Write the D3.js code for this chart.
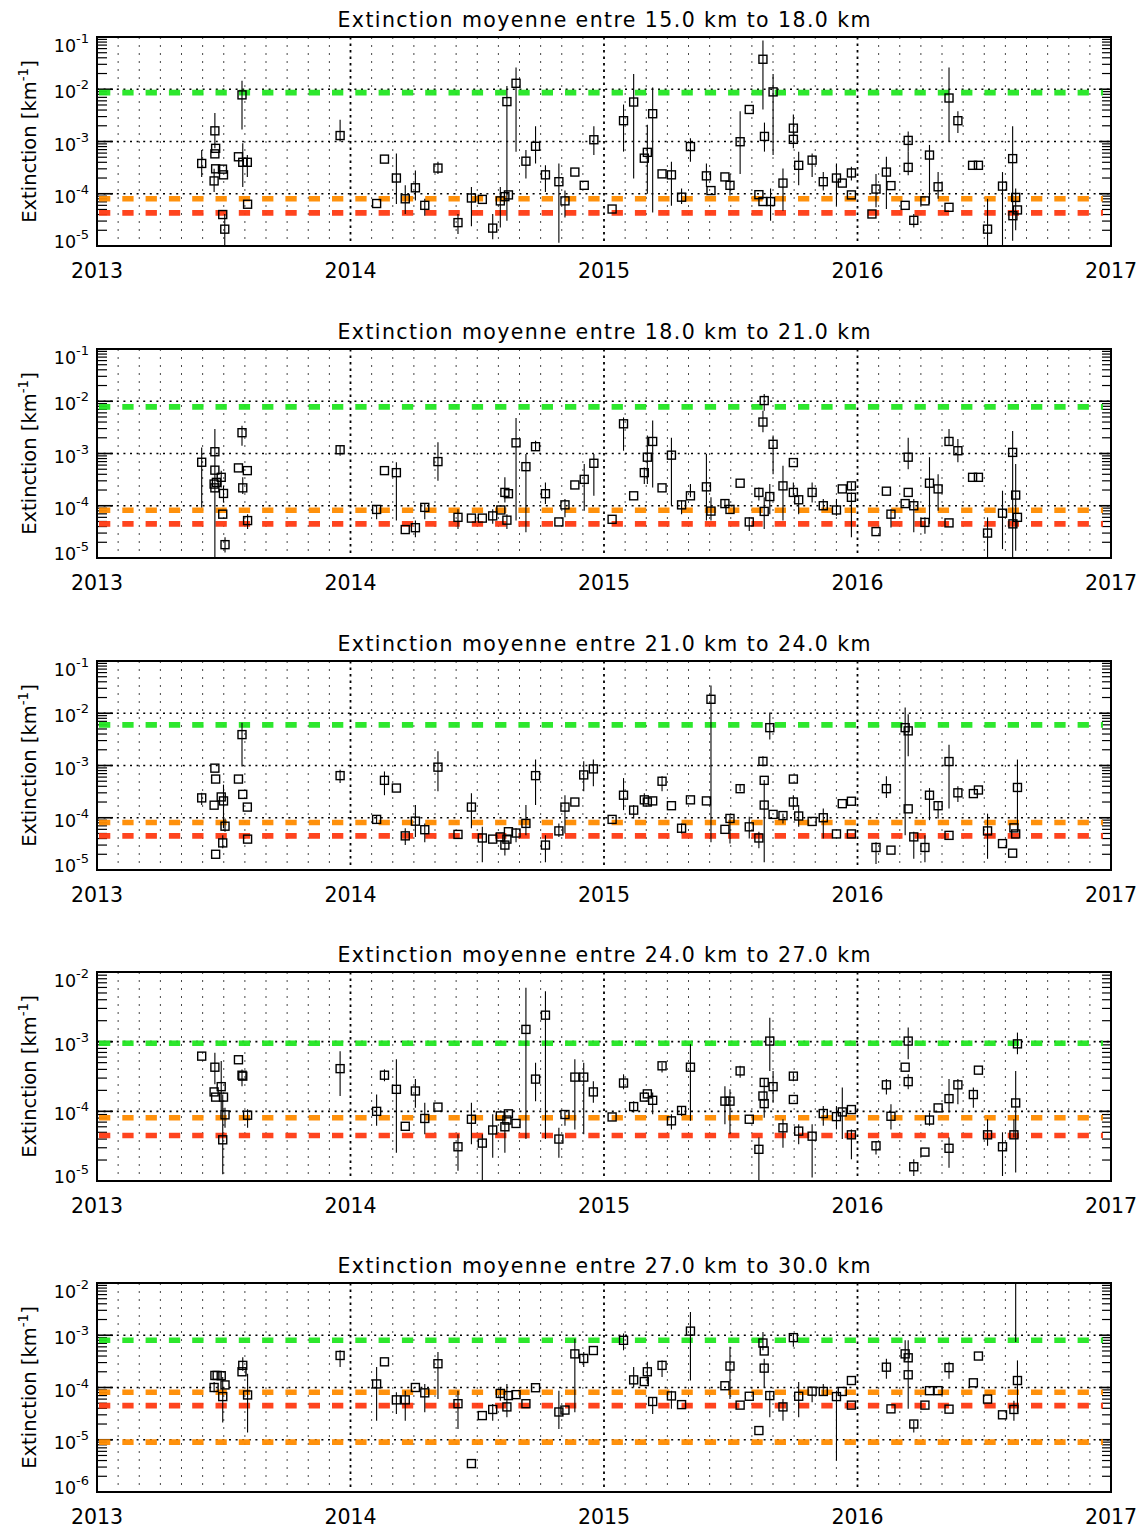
<!DOCTYPE html>
<html>
<head>
<meta charset="utf-8">
<script src="https://cdn.jsdelivr.net/npm/d3@7"></script>
<style>
  body { margin: 0; background: #fff; }
  text { font-family: "DejaVu Sans", "Liberation Sans", Arial, sans-serif; fill: #000; }
</style>
</head>
<body>
<div id="chart"></div>
<script>
// ---- data ----
var years = [2013, 2014, 2015, 2016, 2017];
var layers = ["15.0 km to 18.0 km", "18.0 km to 21.0 km", "21.0 km to 24.0 km", "24.0 km to 27.0 km", "27.0 km to 30.0 km"];
var yDomains = [[1e-5, 1e-1], [1e-5, 1e-1], [1e-5, 1e-1], [1e-5, 1e-2], [1e-6, 1e-2]];
var greenLevels = [8.6e-3, 7.8e-3, 6.0e-3, 9.5e-4, 8.0e-4];
var orangeLevels = [8.0e-5, 8.2e-5, 8.1e-5, 8.1e-5, 8.1e-5];
var redLevels = [4.3e-5, 4.5e-5, 4.5e-5, 4.5e-5, 4.5e-5];
var lowOrangeLevels = [null, null, null, null, 9.0e-6];

// [decimal year, extinction, error low, error high]
var panel1 = [
  [2013.413, 3.8e-4, 2.1e-4, 6.9e-4], [2013.465, 1.6e-3, 7.4e-4, 3.5e-3], [2013.468, 7.4e-4], [2013.465, 5.8e-4],
  [2013.468, 3.0e-4], [2013.462, 1.76e-4, 1.08e-4, 3.0e-4], [2013.495, 2.96e-4], [2013.499, 2.3e-4],
  [2013.496, 4.0e-5], [2013.504, 2.1e-5, 1e-5, 4.1e-5], [2013.558, 5.1e-4], [2013.572, 7.8e-3, 1.7e-3, 1.45e-2],
  [2013.575, 4.0e-4, 1.35e-4, 9.3e-4], [2013.593, 4.0e-4, 2.1e-4, 5.5e-4], [2013.594, 6.3e-5],
  [2013.959, 1.3e-3, 1.0e-3, 2.6e-3], [2014.103, 6.5e-5], [2014.134, 4.6e-4], [2014.181, 2.0e-4, 6.4e-5, 5.9e-4],
  [2014.216, 8.0e-5, 4.1e-5, 1.45e-4], [2014.256, 1.3e-4, 7.4e-5, 2.8e-4], [2014.293, 6.0e-5, 3.8e-5, 8e-5],
  [2014.345, 3.1e-4, 2.4e-4, 4.1e-4], [2014.424, 2.8e-5, 1.7e-5, 4.1e-5], [2014.477, 8.3e-5, 2.4e-5, 1.35e-4],
  [2014.520, 7.8e-5], [2014.561, 2.2e-5, 1.35e-5, 4.1e-5], [2014.591, 7.3e-5, 2.26e-5, 1.35e-4], [2014.609, 8.8e-5],
  [2014.617, 5.8e-3, 3.05e-5, 1.16e-2], [2014.623, 9.5e-5], [2014.653, 1.3e-2, 6.4e-4, 2.6e-2],
  [2014.692, 4.2e-4, 1.95e-4, 6.9e-4], [2014.730, 8.1e-4, 3.8e-4, 1.95e-3], [2014.769, 2.3e-4, 1.08e-4, 3.5e-4],
  [2014.822, 1.7e-4, 1.16e-5, 3.8e-4], [2014.846, 7.3e-5, 3.5e-5, 1.16e-4], [2014.885, 2.6e-4], [2014.922, 1.45e-4],
  [2014.960, 1.08e-3, 5.5e-4, 1.95e-3], [2015.032, 5.1e-5], [2015.077, 2.5e-3, 6.4e-4, 5.1e-3],
  [2015.117, 5.7e-3, 1.95e-4, 1.95e-2], [2015.159, 4.8e-4], [2015.171, 6.2e-4, 1.0e-4, 2.1e-3],
  [2015.192, 3.4e-3, 4.4e-5, 1.08e-2], [2015.229, 2.4e-4], [2015.266, 2.3e-4, 5.9e-5, 4.1e-4],
  [2015.306, 8.6e-5, 6.4e-5, 1.26e-4], [2015.341, 8.0e-4, 4.1e-4, 1.16e-3], [2015.404, 2.2e-4, 1.35e-4, 3.8e-4],
  [2015.422, 1.15e-4], [2015.477, 2.1e-4], [2015.497, 1.45e-4, 9.3e-5, 2.4e-4], [2015.537, 9.9e-4, 2.4e-4, 3.8e-3],
  [2015.573, 4.1e-3], [2015.611, 9.6e-5], [2015.627, 3.75e-2, 4.1e-3, 8.6e-2], [2015.633, 1.25e-3, 6.4e-4, 2.3e-3],
  [2015.627, 7.1e-5], [2015.657, 7.1e-5, 3.05e-5, 1.26e-4], [2015.667, 8.9e-3, 5.5e-4, 1.95e-2],
  [2015.706, 1.6e-4, 4.75e-5, 3.05e-4], [2015.747, 1.8e-3, 7.4e-4, 3.3e-3], [2015.747, 1.1e-3],
  [2015.768, 3.5e-4, 1.45e-4, 6.4e-4], [2015.821, 4.4e-4, 2.1e-4, 5.9e-4], [2015.865, 1.7e-4, 1.16e-4, 2.6e-4],
  [2015.917, 2.0e-4, 5.9e-5, 3.8e-4], [2015.940, 1.6e-4], [2015.976, 2.5e-4, 1.8e-4, 3.3e-4], [2015.976, 9.5e-5],
  [2016.057, 4.1e-5], [2016.073, 1.23e-4, 5.5e-5, 2.4e-4], [2016.114, 2.6e-4, 5.1e-5, 5.1e-4], [2016.132, 1.43e-4],
  [2016.188, 6.0e-5], [2016.200, 1.05e-3, 6.4e-4, 1.56e-3], [2016.200, 3.2e-4, 2.26e-4, 6.4e-4],
  [2016.222, 3.1e-5, 2.26e-5, 4.1e-5], [2016.266, 7.3e-5], [2016.284, 5.5e-4, 6.4e-5, 8.6e-4],
  [2016.318, 1.36e-4, 8e-5, 2.6e-4], [2016.361, 5.5e-5], [2016.361, 6.8e-3, 1.0e-3, 2.6e-2],
  [2016.396, 2.5e-3, 1.45e-3, 3.8e-3], [2016.454, 3.5e-4], [2016.477, 3.5e-4], [2016.513, 2.1e-5, 1e-5, 8e-5],
  [2016.572, 1.4e-4, 1e-5, 2.6e-4], [2016.612, 4.7e-4, 1.26e-5, 1.95e-3], [2016.613, 3.8e-5],
  [2016.624, 8.5e-5, 2e-5, 1.26e-4], [2016.631, 4.9e-5]
];

var panel2 = [
  [2013.413, 6.8e-4, 9.3e-5, 1.3e-3], [2013.465, 1.08e-3, 1.0e-5, 2.95e-3], [2013.465, 4.8e-4], [2013.462, 2.6e-4],
  [2013.465, 2.2e-4], [2013.471, 2.8e-4], [2013.490, 3.5e-4, 2.24e-4, 4.7e-4], [2013.499, 1.72e-4, 1.16e-4, 2.4e-4],
  [2013.496, 6.9e-5], [2013.505, 1.8e-5, 1.28e-5, 2.5e-5], [2013.558, 5.3e-4], [2013.572, 2.5e-3, 1.41e-3, 3.4e-3],
  [2013.575, 2.2e-4, 1.67e-4, 3.5e-4], [2013.593, 4.7e-4], [2013.594, 5.2e-5, 3.6e-5, 6.9e-5],
  [2013.959, 1.18e-3, 9.1e-4, 1.41e-3], [2014.103, 8.5e-5, 5.5e-5, 1.0e-4], [2014.134, 4.7e-4],
  [2014.181, 4.3e-4, 5.2e-5, 6.8e-4], [2014.216, 3.5e-5], [2014.256, 3.8e-5, 2.5e-5, 5.2e-5],
  [2014.293, 9.3e-5, 5.5e-5, 1.08e-4], [2014.345, 7.0e-4, 3.0e-4, 1.64e-3], [2014.424, 6.0e-5, 3.6e-5, 8.6e-5],
  [2014.477, 5.8e-5], [2014.520, 5.8e-5], [2014.561, 6.4e-5, 4.5e-5, 8.6e-5], [2014.593, 8.3e-5],
  [2014.609, 1.8e-4, 1.16e-4, 3.5e-4], [2014.623, 1.7e-4], [2014.617, 5.3e-5, 3.6e-5, 6.9e-5],
  [2014.653, 1.6e-3, 5.2e-5, 4.8e-3], [2014.692, 5.6e-4, 3.1e-5, 9.8e-4], [2014.730, 1.35e-3, 1.13e-3, 1.76e-3],
  [2014.769, 1.7e-4, 1.08e-4, 2.8e-4], [2014.822, 4.9e-5], [2014.846, 1.04e-4, 6.0e-5, 1.35e-4], [2014.885, 2.5e-4],
  [2014.922, 3.2e-4, 8e-5, 6.3e-4], [2014.960, 6.5e-4, 1.55e-4, 9.8e-4], [2015.032, 5.5e-5],
  [2015.077, 3.7e-3, 1.13e-3, 4.9e-3], [2015.117, 1.55e-4], [2015.159, 4.3e-4, 2.6e-4, 5.4e-4],
  [2015.171, 8.5e-4, 2.6e-4, 2.2e-3], [2015.192, 1.7e-3, 2.24e-4, 4.3e-3], [2015.229, 2.2e-4],
  [2015.266, 9.3e-4, 1e-4, 2.0e-3], [2015.306, 1.04e-4, 6.9e-5, 1.26e-4], [2015.341, 1.55e-4, 1.45e-4, 2.6e-4],
  [2015.404, 2.3e-4, 5.2e-5, 9.8e-4], [2015.422, 7.9e-5, 5.2e-5, 1.45e-4], [2015.477, 1.1e-4, 9.3e-5, 1.35e-4],
  [2015.497, 8.5e-5], [2015.537, 2.7e-4], [2015.573, 4.9e-5, 3.3e-5, 6.0e-5], [2015.611, 1.8e-4, 1.26e-4, 2.24e-4],
  [2015.632, 1.03e-2, 6.6e-3, 1.38e-2], [2015.627, 4.0e-3, 2.55e-3, 6.6e-3], [2015.632, 7.8e-5, 3.6e-5, 1.45e-4],
  [2015.654, 1.5e-4, 6.9e-5, 2.6e-4], [2015.667, 1.5e-3, 4.0e-4, 2.2e-3], [2015.706, 2.4e-4, 5.2e-5, 5.85e-4],
  [2015.747, 6.7e-4], [2015.747, 1.8e-4, 1.55e-4, 2.8e-4], [2015.768, 1.3e-4, 6.9e-5, 1.55e-4],
  [2015.821, 1.8e-4, 1.16e-4, 2.8e-4], [2015.865, 1.0e-4, 8.6e-5, 1.35e-4], [2015.917, 8.3e-5, 6.4e-5, 1.35e-4],
  [2015.940, 2.1e-4], [2015.976, 2.4e-4, 1.94e-4, 2.8e-4], [2015.976, 1.45e-4, 2.5e-5, 1.8e-4], [2016.073, 3.2e-5],
  [2016.114, 1.9e-4], [2016.132, 6.9e-5, 3.85e-5, 8.6e-5], [2016.188, 1.1e-4], [2016.200, 1.8e-4],
  [2016.200, 8.5e-4, 5.0e-4, 2.0e-3], [2016.222, 1.0e-4, 3.1e-5, 1.35e-4], [2016.266, 4.8e-5, 2.9e-5, 6.0e-5],
  [2016.284, 2.7e-4, 4.5e-5, 8.5e-4], [2016.318, 2.1e-4, 8e-5, 4.0e-4], [2016.361, 4.7e-5],
  [2016.361, 1.7e-3, 1.41e-3, 2.95e-3], [2016.396, 1.13e-3, 6.8e-4, 1.9e-3], [2016.454, 3.5e-4], [2016.477, 3.5e-4],
  [2016.513, 3.0e-5, 1e-5, 6.0e-5], [2016.572, 7.2e-5, 1.48e-5, 1.94e-4], [2016.612, 1.05e-3, 1e-5, 2.7e-3],
  [2016.613, 4.5e-5], [2016.624, 1.6e-4, 1.37e-5, 6.3e-4], [2016.631, 6.0e-5]
];

var panel3 = [
  [2013.413, 2.4e-4, 1.75e-4, 3.0e-4], [2013.465, 8.9e-4], [2013.468, 5.5e-4], [2013.462, 1.74e-4], [2013.490, 2.5e-4],
  [2013.499, 2.1e-4, 6.3e-5, 4.3e-4], [2013.505, 6.9e-5, 5.4e-5, 9.7e-5], [2013.496, 3.3e-5, 2.6e-5, 4.6e-5],
  [2013.468, 2.0e-5], [2013.558, 5.5e-4], [2013.572, 3.9e-3, 9.6e-4, 6.6e-3], [2013.575, 2.8e-4], [2013.593, 1.6e-4],
  [2013.594, 3.9e-5], [2013.959, 6.4e-4, 4.6e-4, 8.3e-4], [2014.103, 9.3e-5, 7.8e-5, 1.12e-4],
  [2014.134, 5.2e-4, 2.7e-4, 7.7e-4], [2014.181, 3.7e-4], [2014.216, 4.5e-5, 3.0e-5, 6.3e-5],
  [2014.256, 8.6e-5, 4.3e-5, 1.75e-4], [2014.293, 5.9e-5, 3.4e-5, 7.8e-5], [2014.345, 9.3e-4, 3.2e-4, 1.87e-3],
  [2014.424, 4.8e-5], [2014.477, 1.6e-4, 6.3e-5, 2.95e-4], [2014.520, 4.1e-5, 1.4e-5, 6.7e-5], [2014.561, 3.9e-5],
  [2014.591, 4.3e-5], [2014.609, 3.0e-5, 1.9e-5, 4.6e-5], [2014.617, 3.9e-5], [2014.623, 5.4e-5],
  [2014.653, 5.1e-5, 3.4e-5, 6.3e-5], [2014.692, 7.8e-5, 4.6e-5, 1.75e-4], [2014.730, 6.4e-4, 1.75e-4, 1.3e-3],
  [2014.769, 3.0e-5, 1.4e-5, 4.6e-5], [2014.822, 5.6e-5, 4.3e-5, 7.8e-5], [2014.846, 1.6e-4, 5.0e-5, 2.7e-4],
  [2014.885, 2.0e-4], [2014.920, 6.6e-4, 3.2e-4, 1.2e-3], [2014.958, 8.6e-4, 4.0e-4, 1.3e-3], [2015.032, 9.3e-5],
  [2015.077, 2.7e-4, 1.4e-4, 5.75e-4], [2015.117, 1.4e-4, 9.7e-5, 1.75e-4], [2015.159, 2.2e-4, 1.9e-4, 2.95e-4],
  [2015.171, 2.0e-4], [2015.192, 2.1e-4], [2015.229, 5.0e-4, 3.2e-4, 6.2e-4], [2015.266, 1.7e-4],
  [2015.306, 6.3e-5, 5.0e-5, 7.8e-5], [2015.341, 2.2e-4], [2015.404, 2.1e-4], [2015.422, 1.85e-2, 3.4e-5, 3.4e-2],
  [2015.477, 6.0e-5], [2015.497, 9.7e-5, 3.2e-5, 1.12e-4], [2015.537, 3.6e-4, 3.2e-4, 4.3e-4],
  [2015.573, 6.7e-5, 4.0e-5, 1.05e-4], [2015.611, 4.1e-5, 2.6e-5, 5.4e-5], [2015.627, 1.2e-3, 9.6e-4, 1.5e-3],
  [2015.632, 5.2e-4], [2015.632, 1.75e-4, 1.4e-5, 5.3e-4], [2015.654, 5.3e-3, 3.15e-3, 1.03e-2], [2015.667, 1.16e-4],
  [2015.706, 1.1e-4, 7.8e-5, 1.2e-4], [2015.747, 5.5e-4], [2015.747, 2.0e-4, 1.4e-4, 2.7e-4],
  [2015.768, 1.08e-4, 6.7e-5, 1.75e-4], [2015.821, 8.5e-5], [2015.865, 1.0e-4, 4.0e-5, 1.5e-4], [2015.917, 4.9e-5],
  [2015.940, 1.86e-4], [2015.976, 2.07e-4], [2015.976, 4.9e-5], [2016.073, 2.7e-5, 1.3e-5, 3.4e-5],
  [2016.114, 3.6e-4, 2.4e-4, 6.2e-4], [2016.132, 2.4e-5], [2016.188, 5.3e-3, 4.6e-5, 1.29e-2],
  [2016.200, 4.6e-3, 1.5e-3, 9.6e-3], [2016.200, 1.48e-4], [2016.222, 4.3e-5, 1.64e-5, 5.4e-5],
  [2016.266, 2.7e-5, 1.4e-5, 4.6e-5], [2016.284, 2.7e-4, 9.0e-5, 3.7e-4], [2016.318, 1.7e-4, 9.7e-5, 2.0e-4],
  [2016.361, 1.19e-3, 1.5e-4, 2.5e-3], [2016.361, 4.6e-5], [2016.396, 3.0e-4, 2.0e-4, 4.0e-4], [2016.457, 2.9e-4],
  [2016.477, 3.4e-4], [2016.513, 5.6e-5, 1.64e-5, 1.2e-4], [2016.572, 3.2e-5], [2016.612, 2.1e-5], [2016.617, 6.4e-5],
  [2016.624, 4.9e-5], [2016.631, 3.8e-4, 5.4e-5, 1.3e-3]
];

var panel4 = [
  [2013.413, 6.2e-4], [2013.465, 4.3e-4, 2.45e-4, 6.95e-4], [2013.462, 1.9e-4], [2013.468, 1.6e-4],
  [2013.490, 2.26e-4, 1.01e-4, 5.3e-4], [2013.499, 1.6e-4], [2013.505, 8.9e-5, 5.8e-5, 1.13e-4],
  [2013.496, 3.9e-5, 1.25e-5, 1.75e-4], [2013.558, 5.5e-4], [2013.572, 3.3e-4, 2.3e-4, 4.0e-4], [2013.575, 3.2e-4],
  [2013.594, 8.8e-5, 5.8e-5, 1.07e-4], [2013.959, 4.1e-4, 1.66e-4, 7.3e-4], [2014.103, 1.0e-4, 6.2e-5, 1.75e-4],
  [2014.134, 3.3e-4, 2.7e-4, 4.0e-4], [2014.181, 2.07e-4, 2.55e-5, 5.6e-4], [2014.216, 6.1e-5],
  [2014.256, 1.96e-4, 1.13e-4, 2.9e-4], [2014.293, 7.9e-5, 4.7e-5, 1.33e-4], [2014.345, 1.15e-4],
  [2014.424, 3.1e-5, 1.4e-5, 4.7e-5], [2014.477, 7.7e-5, 3.36e-5, 1.33e-4], [2014.520, 3.5e-5, 1e-5, 4.7e-5],
  [2014.561, 5.4e-5, 2.16e-5, 9.1e-5], [2014.591, 8.6e-5], [2014.609, 6.0e-5, 2.55e-5, 1.01e-4], [2014.617, 7.5e-5],
  [2014.623, 9.2e-5], [2014.653, 6.7e-5], [2014.692, 1.5e-3, 4.0e-5, 5.96e-3], [2014.730, 2.9e-4, 1.4e-4, 5.0e-4],
  [2014.769, 2.4e-3, 4.0e-5, 5.3e-3], [2014.822, 4.0e-5, 2.16e-5, 5.8e-5], [2014.846, 9.0e-5, 6.2e-5, 1.01e-4],
  [2014.885, 3.1e-4, 5.5e-5, 5.6e-4], [2014.920, 3.1e-4, 4.7e-5, 5.0e-4], [2014.958, 1.9e-4, 1.33e-4, 2.7e-4],
  [2015.032, 8.3e-5], [2015.077, 2.55e-4, 2.07e-4, 3.4e-4], [2015.117, 1.17e-4, 9.6e-5, 1.4e-4], [2015.159, 1.6e-4],
  [2015.171, 1.78e-4], [2015.192, 1.44e-4, 9.1e-5, 1.86e-4], [2015.229, 4.5e-4, 3.6e-4, 5.0e-4],
  [2015.266, 7.3e-5, 5.5e-5, 9.1e-5], [2015.306, 1.03e-4, 8.6e-5, 1.19e-4], [2015.341, 4.3e-4, 7.3e-5, 9.2e-4],
  [2015.477, 1.4e-4, 6.5e-5, 2.3e-4], [2015.497, 1.4e-4, 4.7e-5, 2.07e-4], [2015.537, 3.8e-4, 3.04e-4, 4.5e-4],
  [2015.573, 7.7e-5], [2015.611, 2.85e-5, 1e-5, 4.2e-5], [2015.627, 1.66e-4], [2015.632, 1.29e-4, 8.1e-5, 2.9e-4],
  [2015.632, 2.6e-4], [2015.654, 1.02e-3, 3.8e-4, 2.2e-3], [2015.667, 2.26e-4, 1.33e-4, 3.8e-4],
  [2015.706, 5.8e-5, 3.0e-5, 7.7e-5], [2015.747, 3.2e-4, 2.7e-4, 3.6e-4], [2015.747, 1.48e-4],
  [2015.768, 5.2e-5, 3.36e-5, 6.5e-5], [2015.821, 4.4e-5, 1.12e-5, 6.5e-5], [2015.865, 9.3e-5, 6.2e-5, 1.19e-4],
  [2015.917, 8.4e-5, 5.5e-5, 1.19e-4], [2015.940, 9.8e-5, 4.0e-5, 2.2e-4], [2015.976, 1.06e-4],
  [2015.976, 4.6e-5, 2.05e-5, 5.5e-5], [2016.073, 3.2e-5, 2.4e-5, 3.75e-5], [2016.114, 2.4e-4, 1.75e-4, 2.9e-4],
  [2016.132, 8.5e-5, 5.5e-5, 1.26e-4], [2016.188, 4.3e-4], [2016.200, 1.02e-3, 5.6e-4, 1.6e-3],
  [2016.200, 2.67e-4, 2.07e-4, 3.4e-4], [2016.222, 1.6e-5, 1.18e-5, 2.05e-5], [2016.266, 2.6e-5],
  [2016.284, 7.5e-5, 6.2e-5, 9.6e-5], [2016.318, 1.12e-4], [2016.361, 1.52e-4, 9.6e-5, 2.9e-4],
  [2016.361, 2.95e-5, 1.55e-5, 4.2e-5], [2016.396, 2.4e-4, 1.26e-4, 2.9e-4], [2016.457, 1.74e-4, 1.13e-4, 2.2e-4],
  [2016.477, 3.9e-4], [2016.513, 4.6e-5, 3.2e-5, 7.7e-5], [2016.572, 3.1e-5, 1.18e-5, 5.0e-5],
  [2016.617, 4.6e-5, 4.2e-5, 7.7e-5], [2016.624, 1.32e-4, 1.32e-5, 3.8e-4], [2016.631, 9.3e-4, 6.6e-4, 1.35e-3]
];

var panel5 = [
  [2013.462, 1.0e-4, 8.1e-5, 1.27e-4], [2013.465, 1.7e-4], [2013.474, 1.7e-4], [2013.490, 1.68e-4], [2013.505, 1.12e-4],
  [2013.496, 6.7e-5, 2.15e-5, 1.58e-4], [2013.575, 2.65e-4, 2.1e-4, 3.8e-4], [2013.572, 2.0e-4],
  [2013.594, 7.2e-5, 1.38e-5, 1.83e-4], [2013.959, 4.1e-4, 2.46e-4, 5.15e-4], [2014.103, 1.17e-4, 2.3e-5, 2.46e-4],
  [2014.134, 3.1e-4], [2014.181, 5.8e-5, 3.1e-5, 8.1e-5], [2014.216, 5.8e-5, 2.3e-5, 8.7e-5], [2014.256, 1.0e-4],
  [2014.293, 7.9e-5, 3.36e-5, 1.17e-4], [2014.345, 2.85e-4, 6.0e-5, 4.8e-4], [2014.424, 4.9e-5, 1.6e-5, 8.7e-5],
  [2014.477, 3.5e-6], [2014.520, 2.9e-5], [2014.561, 3.8e-5, 2.3e-5, 4.85e-5], [2014.591, 7.7e-5, 5.6e-5, 1.01e-4],
  [2014.617, 4.25e-5, 2.7e-5, 1.17e-4], [2014.623, 7.0e-5], [2014.653, 7.3e-5], [2014.692, 4.9e-5], [2014.730, 9.9e-5],
  [2014.822, 3.4e-5, 1.6e-5, 8.7e-5], [2014.846, 3.7e-5], [2014.885, 4.4e-4, 3.36e-5, 8.6e-4],
  [2014.920, 3.6e-4, 2.46e-4, 4.8e-4], [2014.958, 5.1e-4], [2015.077, 8.0e-4, 5.15e-4, 1.08e-3],
  [2015.117, 1.4e-4, 1.01e-4, 2.46e-4], [2015.159, 1.3e-4], [2015.171, 2.0e-4, 1.17e-4, 3.1e-4],
  [2015.192, 5.4e-5, 3.1e-5, 6.5e-5], [2015.229, 2.65e-4, 1.58e-4, 3.3e-4], [2015.266, 6.9e-5, 3.9e-5, 8.7e-5],
  [2015.306, 4.7e-5], [2015.341, 1.2e-3, 1.36e-4, 2.8e-3], [2015.477, 1.08e-4], [2015.497, 2.57e-4, 6.0e-5, 6.0e-4],
  [2015.537, 4.6e-5], [2015.573, 6.8e-5], [2015.611, 1.5e-5], [2015.627, 7.1e-4, 5.15e-4, 1.16e-3], [2015.632, 5.0e-4],
  [2015.632, 2.35e-4, 1.01e-4, 3.55e-4], [2015.654, 7.0e-5, 2.7e-5, 8.7e-5], [2015.706, 4.25e-5, 2.3e-5, 6.0e-5],
  [2015.747, 9.0e-4, 6.0e-4, 1.08e-3], [2015.768, 6.8e-5, 2.7e-5, 1.27e-4], [2015.821, 8.5e-5, 5.2e-5, 1.01e-4],
  [2015.865, 8.4e-5, 7.0e-5, 1.17e-4], [2015.917, 6.7e-5, 4.0e-6, 8.7e-5], [2015.940, 8.4e-5], [2015.976, 1.36e-4],
  [2015.976, 4.6e-5], [2016.114, 2.45e-4, 1.47e-4, 3.55e-4], [2016.132, 3.9e-5], [2016.188, 4.4e-4, 3.3e-4, 8.0e-4],
  [2016.200, 3.7e-4], [2016.200, 1.75e-4, 3.9e-5, 8.0e-4], [2016.222, 2.0e-5, 1.38e-5, 2.3e-5], [2016.266, 4.6e-5],
  [2016.284, 8.7e-5], [2016.318, 8.7e-5], [2016.361, 2.4e-4, 1.47e-4, 3.1e-4], [2016.361, 3.85e-5], [2016.457, 1.23e-4],
  [2016.477, 4.0e-4], [2016.513, 6.0e-5], [2016.572, 3.0e-5], [2016.617, 3.8e-5, 2.3e-5, 5.6e-5],
  [2016.624, 5.0e-2, 7.4e-4, 1.0], [2016.631, 1.36e-4, 3.36e-5, 3.3e-4]
];

var panels = [panel1, panel2, panel3, panel4, panel5];

// ---- layout ----
var width = 1145, height = 1529;
var left = 97, right = 1111, plotH = 209;
var tops = [37, 349, 661, 972, 1283];
var green = "#22e622", orange = "#ff8c00", red = "#ff3a12";

var svg = d3.select("#chart").append("svg")
  .attr("width", width).attr("height", height)
  .attr("viewBox", "0 0 " + width + " " + height);

var x = d3.scaleLinear().domain([years[0], years[years.length - 1]]).range([left, right]);

function drawPanel(i) {
  var top = tops[i], bottom = top + plotH;
  var dom = yDomains[i];
  var y = d3.scaleLog().domain(dom).range([bottom, top]);
  var g = svg.append("g");

  g.append("clipPath").attr("id", "clip" + i)
    .append("rect").attr("x", left).attr("y", top).attr("width", right - left).attr("height", plotH);

  // monthly grid
  var months = d3.range(1, 48).filter(function(m) { return m % 12 != 0; })
    .map(function(m) { return years[0] + m / 12; });
  g.selectAll(".month").data(months).enter().append("line")
    .attr("x1", function(d) { return x(d); }).attr("x2", function(d) { return x(d); })
    .attr("y1", top).attr("y2", bottom)
    .attr("stroke", "#333").attr("stroke-width", 0.9).attr("stroke-dasharray", "2,6");

  // year grid
  g.selectAll(".year").data(years.slice(1, -1)).enter().append("line")
    .attr("x1", function(d) { return x(d); }).attr("x2", function(d) { return x(d); })
    .attr("y1", top).attr("y2", bottom)
    .attr("stroke", "#000").attr("stroke-width", 1.8).attr("stroke-dasharray", "2.5,4");

  // decades
  var e0 = Math.round(Math.log10(dom[0])), e1 = Math.round(Math.log10(dom[1]));
  var decades = d3.range(e0, e1 + 1);
  g.selectAll(".dec").data(decades.slice(1, -1)).enter().append("line")
    .attr("x1", left).attr("x2", right)
    .attr("y1", function(e) { return y(Math.pow(10, e)); }).attr("y2", function(e) { return y(Math.pow(10, e)); })
    .attr("stroke", "#000").attr("stroke-width", 1.6).attr("stroke-dasharray", "2,4.6");

  // tick marks (left + right, inward)
  var minors = [];
  decades.slice(0, -1).forEach(function(e) {
    for (var k = 2; k <= 9; k++) minors.push(k * Math.pow(10, e));
  });
  [[left, 1, 16, 10], [right, -1, 12, 9]].forEach(function(a) {
    g.selectAll(null).data(minors).enter().append("line")
      .attr("x1", a[0]).attr("x2", a[0] + a[1] * a[3])
      .attr("y1", function(d) { return y(d); }).attr("y2", function(d) { return y(d); })
      .attr("stroke", "#000").attr("stroke-width", 1.2);
    g.selectAll(null).data(decades).enter().append("line")
      .attr("x1", a[0]).attr("x2", a[0] + a[1] * a[2])
      .attr("y1", function(e) { return y(Math.pow(10, e)); }).attr("y2", function(e) { return y(Math.pow(10, e)); })
      .attr("stroke", "#000").attr("stroke-width", 1.6);
  });

  // threshold levels
  var levels = [[greenLevels[i], green], [orangeLevels[i], orange], [redLevels[i], red]];
  if (lowOrangeLevels[i]) levels.push([lowOrangeLevels[i], orange]);
  g.selectAll(".lvl").data(levels).enter().append("line")
    .attr("x1", left + 2).attr("x2", right - 8)
    .attr("y1", function(d) { return y(d[0]); }).attr("y2", function(d) { return y(d[0]); })
    .attr("stroke", function(d) { return d[1]; }).attr("stroke-width", 5.6)
    .attr("stroke-dasharray", "11.3,12").attr("opacity", 0.95);

  // error bars
  var pts = g.append("g").attr("clip-path", "url(#clip" + i + ")");
  pts.selectAll(".err").data(panels[i].filter(function(d) { return d.length > 2; })).enter().append("line")
    .attr("x1", function(d) { return x(d[0]); }).attr("x2", function(d) { return x(d[0]); })
    .attr("y1", function(d) { return y(d[2]); }).attr("y2", function(d) { return y(d[3]); })
    .attr("stroke", "#000").attr("stroke-width", 1.1);

  // squares
  var s = 8;
  pts.selectAll(".pt").data(panels[i]).enter().append("rect")
    .attr("x", function(d) { return x(d[0]) - s / 2; })
    .attr("y", function(d) { return y(d[1]) - s / 2; })
    .attr("width", s).attr("height", s)
    .attr("fill", "none").attr("stroke", "#000").attr("stroke-width", 1.4);

  // frame
  g.append("rect").attr("x", left).attr("y", top).attr("width", right - left).attr("height", plotH)
    .attr("fill", "none").attr("stroke", "#000").attr("stroke-width", 2);

  // y tick labels
  decades.forEach(function(e) {
    var v = Math.pow(10, e), dy = 9;
    if (e == e1) dy = 15;
    if (e == e0) dy = 2;
    var t = g.append("text").attr("x", left - 8).attr("y", y(v) + dy)
      .attr("text-anchor", "end").attr("font-size", 17.5);
    t.append("tspan").text("10");
    t.append("tspan").attr("dy", -9).attr("font-size", 13).text("-" + Math.abs(e));
  });

  // x labels
  g.selectAll(".xl").data(years).enter().append("text")
    .attr("x", function(d) { return x(d); }).attr("y", bottom + 32)
    .attr("text-anchor", "middle").attr("font-size", 20.5)
    .text(function(d) { return d; });

  // title
  g.append("text").attr("x", (left + right) / 2).attr("y", top - 10)
    .attr("text-anchor", "middle").attr("font-size", 20.5)
    .attr("textLength", 533).attr("lengthAdjust", "spacing")
    .text("Extinction moyenne entre " + layers[i]);

  // y title
  var yt = g.append("text")
    .attr("transform", "translate(36," + (top + plotH / 2) + ") rotate(-90)")
    .attr("text-anchor", "middle").attr("font-size", 19.5);
  yt.append("tspan").text("Extinction [km");
  yt.append("tspan").attr("dy", -8).attr("font-size", 13.5).text("-1");
  yt.append("tspan").attr("dy", 8).text("]");
}

for (var i = 0; i < panels.length; i++) drawPanel(i);
</script>
</body>
</html>
